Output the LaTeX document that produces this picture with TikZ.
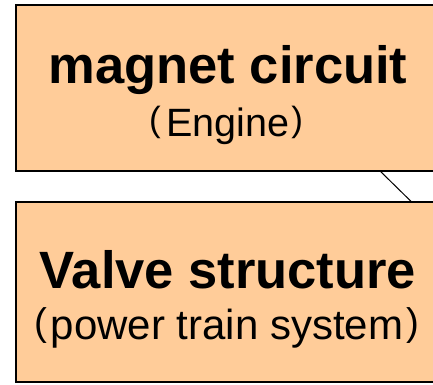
\documentclass[tikz,border=0pt]{standalone}
\usepackage{fontspec}
\setmainfont{Liberation Sans}
\definecolor{peach}{RGB}{255,204,153}
\newcommand{\lpar}[2]{\raisebox{#2}{\fontsize{#1}{#1}\selectfont (}}
\newcommand{\rpar}[2]{\raisebox{#2}{\fontsize{#1}{#1}\selectfont )}}
\tikzset{
  box/.style={draw=black, line width=1.3pt, fill=peach, rectangle, inner sep=0pt},
  title/.style={anchor=base, inner sep=0pt, font=\fontsize{52.5}{60}\selectfont\bfseries},
  sub/.style={anchor=base, inner sep=0pt},
  link/.style={draw=black, line width=1pt}
}
\begin{document}
\begin{tikzpicture}[x=1pt, y=-1pt]
\useasboundingbox (0,0) rectangle (433,384);
\fill[white] (0,0) rectangle (433,384);
\node[box, minimum width=422pt, minimum height=166pt] (top) at (227,88) {};
\node[box, minimum width=422pt, minimum height=180pt] (bot) at (227,292) {};
\node[title] (t1) at (228,83) {magnet circuit};
\node[sub, font=\fontsize{39.5}{44}\selectfont] (s1) at (226,136.7) {\lpar{35}{4.9pt}\kern5.5pt Engine\kern2pt\rpar{35}{4.9pt}};
\node[title] (t2) at (228,288) {Valve structure};
\node[sub, font=\fontsize{42}{46}\selectfont] (s2) at (226.5,339) {\lpar{38.5}{4pt}\kern3.9pt power train system\kern2.9pt\rpar{38.5}{4pt}};
\coordinate (xa) at (380.7,0);
\coordinate (xb) at (411,0);
\draw[link] (top.south -| xa) -- (bot.north -| xb);
\end{tikzpicture}
\end{document}
